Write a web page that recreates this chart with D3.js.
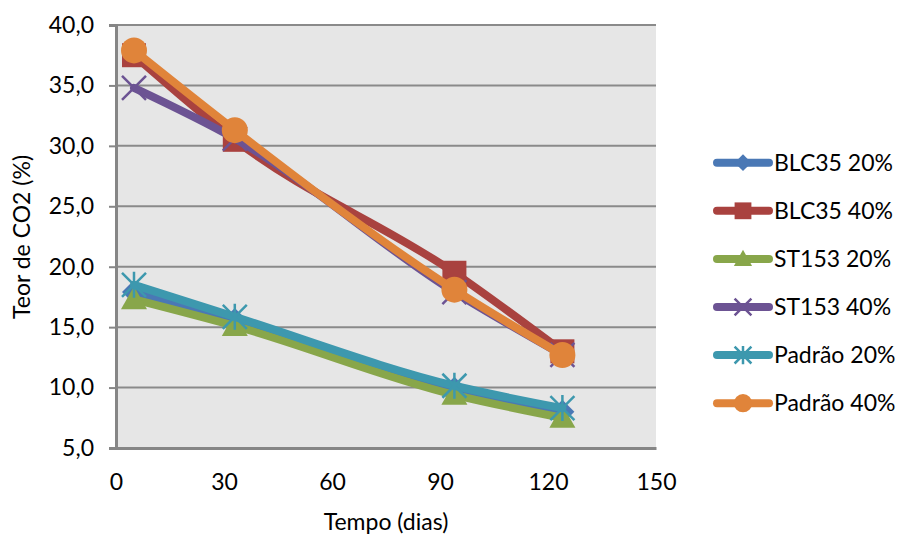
<!DOCTYPE html>
<html><head><meta charset="utf-8">
<script src="https://cdn.jsdelivr.net/npm/d3@7"></script>
<style>body{margin:0;background:#fff}svg{display:block}text{font-family:Lato,"Open Sans",sans-serif;fill:#000}</style>
</head><body>
<svg id="c" width="905" height="535"></svg>
<script>
const days = [5, 33, 94, 124];
const seriesNames = ["BLC35 20%", "BLC35 40%", "ST153 20%", "ST153 40%", "Padrão 20%", "Padrão 40%"];
const blc35_20 = [17.9, 15.6, 9.9, 8.0];
const blc35_40 = [37.5, 30.5, 19.5, 13.0];
const st153_20 = [17.3, 15.1, 9.4, 7.5];
const st153_40 = [34.8, 30.6, 17.9, 12.7];
const padrao_20 = [18.5, 15.85, 10.15, 8.3];
const padrao_40 = [37.9, 31.3, 18.1, 12.7];
const xTicks = [0, 30, 60, 90, 120, 150];
const yTicks = [5, 10, 15, 20, 25, 30, 35, 40];
const colors = ["#4a78b5", "#a9423f", "#88a64a", "#6c5393", "#3d98ae", "#e0843a"];
const markers = ["diamond", "square", "triangle", "x", "star", "circle"];
const values = [blc35_20, blc35_40, st153_20, st153_40, padrao_20, padrao_40];

const svg = d3.select("#c");
const x = d3.scaleLinear().domain([0, 150]).range([116, 656]);
const y = d3.scaleLinear().domain([5, 40]).range([448, 25]);

svg.append("rect").attr("x", x(0)).attr("y", y(40)).attr("width", x(150) - x(0)).attr("height", y(5) - y(40)).attr("fill", "#e6e6e6");

svg.append("g").selectAll("line").data(yTicks.filter(d => d > 5)).join("line")
  .attr("x1", x(0)).attr("x2", x(150)).attr("y1", d => y(d)).attr("y2", d => y(d))
  .attr("stroke", "#8a8a8a").attr("stroke-width", 2);

const fmt = d => d.toFixed(1).replace(".", ",");
const ya = svg.append("g").attr("transform", `translate(${x(0)},0)`)
  .call(d3.axisLeft(y).tickValues(yTicks).tickFormat(fmt).tickSize(7).tickPadding(15));
ya.select(".domain").attr("stroke", "#868686").attr("stroke-width", 3);
ya.selectAll(".tick line").attr("stroke", "#868686").attr("stroke-width", 2);
ya.selectAll("text").style("font-size", "23px").attr("fill", "#000");

const xa = svg.append("g").attr("transform", `translate(0,${y(5)})`)
  .call(d3.axisBottom(x).tickValues(xTicks).tickFormat(d3.format("d")).tickSize(0).tickPadding(26));
xa.select(".domain").attr("stroke", "#868686").attr("stroke-width", 3);
xa.selectAll("text").style("font-size", "23px").attr("fill", "#000");

svg.append("text").attr("x", 386).attr("y", 530).attr("text-anchor", "middle").style("font-size", "23px").text("Tempo (dias)");
svg.append("text").attr("transform", "translate(30,237) rotate(-90)").attr("text-anchor", "middle").style("font-size", "23px").text("Teor de CO2 (%)");

function drawMarker(g, type, color, cx, cy, s) {
  s = s || 1;
  const a = 12 * s;
  if (type === "diamond") g.append("path").attr("d", `M${cx},${cy-a}L${cx+a},${cy}L${cx},${cy+a}L${cx-a},${cy}Z`).attr("fill", color);
  else if (type === "square") g.append("rect").attr("x", cx-a).attr("y", cy-a).attr("width", 2*a).attr("height", 2*a).attr("fill", color);
  else if (type === "triangle") g.append("path").attr("d", `M${cx},${cy-13*s}L${cx+13*s},${cy+10*s}L${cx-13*s},${cy+10*s}Z`).attr("fill", color);
  else if (type === "circle") g.append("circle").attr("cx", cx).attr("cy", cy).attr("r", 13 * s).attr("fill", color);
  else if (type === "x") g.append("path").attr("d", `M${cx-a},${cy-a}L${cx+a},${cy+a}M${cx+a},${cy-a}L${cx-a},${cy+a}`).attr("stroke", color).attr("stroke-width", 2.5);
  else if (type === "star") g.append("path").attr("d", `M${cx-a},${cy-a}L${cx+a},${cy+a}M${cx+a},${cy-a}L${cx-a},${cy+a}M${cx},${cy-13*s}L${cx},${cy+13*s}`).attr("stroke", color).attr("stroke-width", 2.5);
}

const line = d3.line().x((d, i) => x(days[i])).y(d => y(d)).curve(d3.curveMonotoneX);
values.forEach((vals, k) => {
  const g = svg.append("g");
  g.append("path").attr("d", line(vals)).attr("fill", "none").attr("stroke", colors[k]).attr("stroke-width", 8).attr("stroke-linejoin", "round").attr("stroke-linecap", "round");
  vals.forEach((v, i) => drawMarker(g, markers[k], colors[k], x(days[i]), y(v)));
});

const leg = svg.append("g");
seriesNames.forEach((n, k) => {
  const ly = 162.7 + k * 48.1;
  const g = leg.append("g");
  g.append("line").attr("x1", 717).attr("x2", 769).attr("y1", ly).attr("y2", ly).attr("stroke", colors[k]).attr("stroke-width", 8).attr("stroke-linecap", "round");
  drawMarker(g, markers[k], colors[k], 743, ly, 0.7);
  g.append("text").attr("x", 774).attr("y", ly + 8).style("font-size", "23px").text(n);
});
</script>
</body></html>
